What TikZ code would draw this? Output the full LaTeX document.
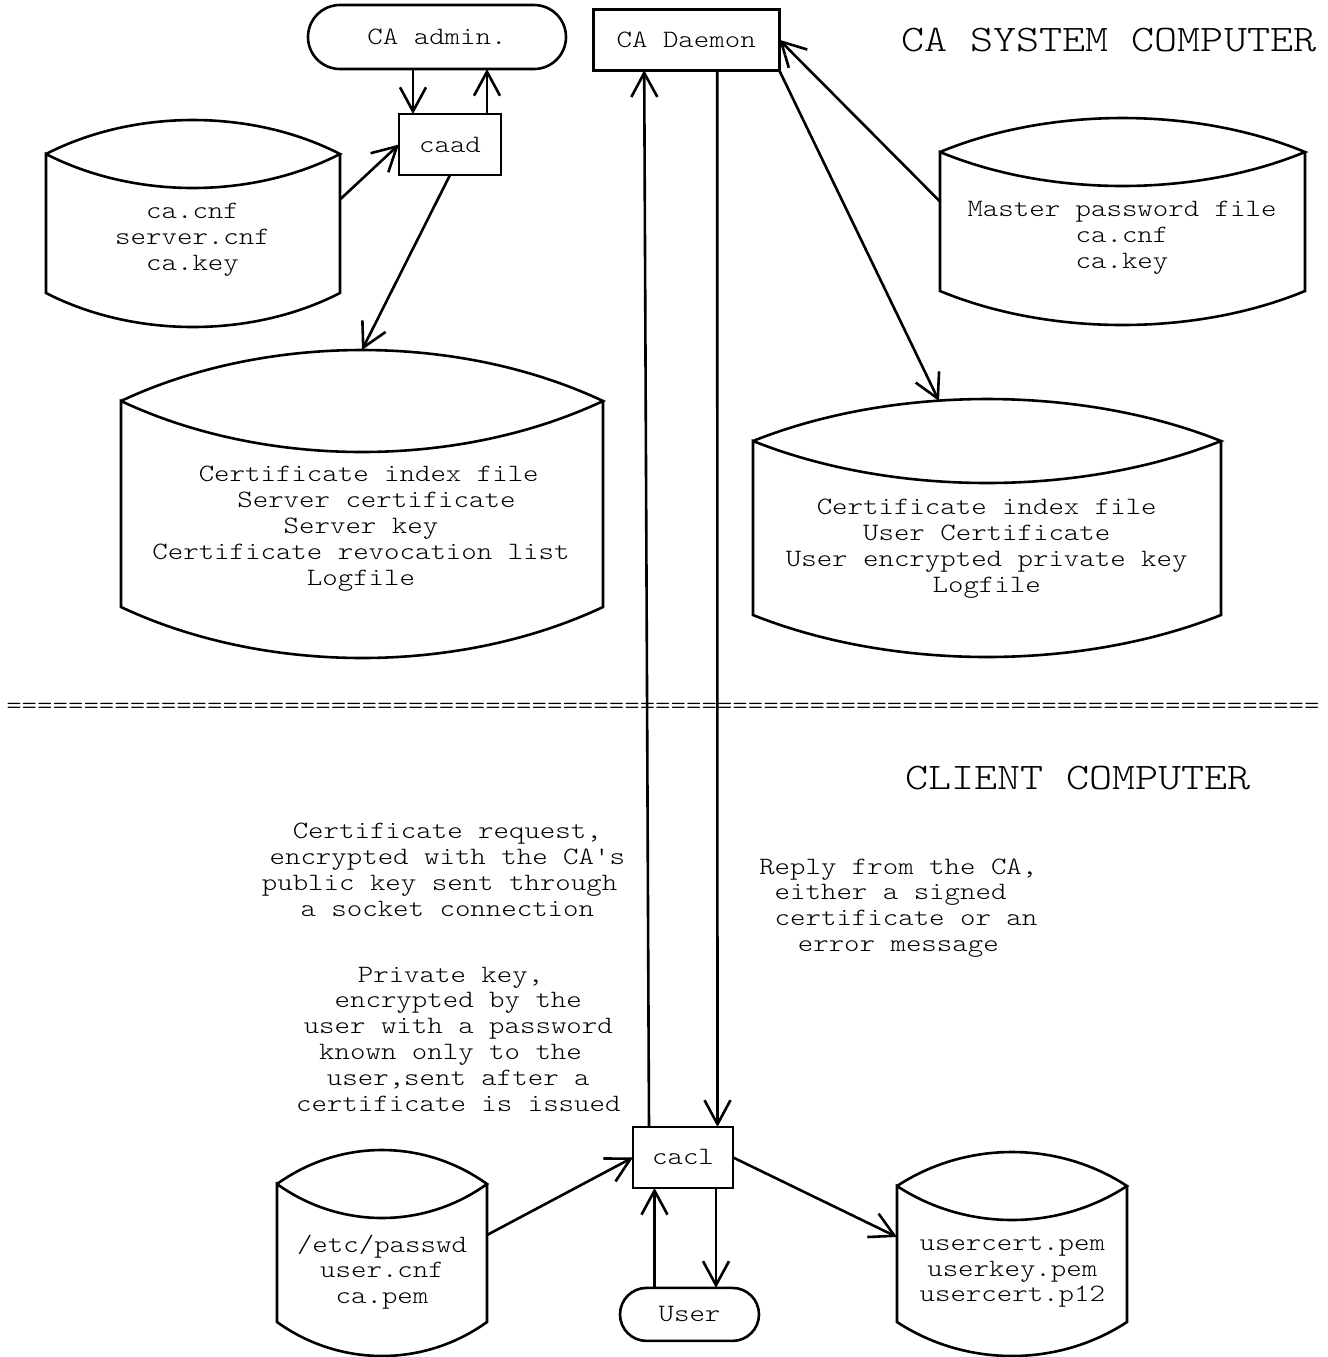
\documentclass[tikz,border=0pt]{standalone}
\usepackage{fontspec}
\newfontfamily\monofam{lmmonolt10-regular}[Extension=.otf, FakeStretch=1.18, Ligatures=TeXOff]
\newfontfamily\monobig{lmmonolt10-regular}[Extension=.otf, FakeStretch=1.17, Ligatures=TeXOff]
\usetikzlibrary{arrows.meta,calc}
\newcommand\smono{\monofam\fontsize{12.47pt}{12.9pt}\selectfont}
\newcommand\bmono{\monobig\fontsize{18.76pt}{20pt}\selectfont}
\newcommand\lsp{\hphantom{x}}
% #1 node name, #2 width (px), #3 bulge (px)
\newcommand\cylout[3]{%
  \draw[shapeline] ($(#1.north west)+(0,#3)$)
    .. controls +(0.3*#2,-1.333*#3) and +(-0.3*#2,-1.333*#3) .. ($(#1.north east)+(0,#3)$)
    .. controls +(-0.3*#2,1.333*#3) and +(0.3*#2,1.333*#3) .. ($(#1.north west)+(0,#3)$)
    -- ($(#1.south west)+(0,-#3)$)
    .. controls +(0.3*#2,1.333*#3) and +(-0.3*#2,1.333*#3) .. ($(#1.south east)+(0,-#3)$)
    -- ($(#1.north east)+(0,#3)$);}
\begin{document}
\begin{tikzpicture}[x=0.5pt,y=-0.5pt,
  line width=1.3pt,
  shapeline/.style={line width=1.3pt},
  box/.style={draw, rectangle, inner sep=0pt, outer sep=0pt, font=\smono},
  stadium/.style={box, rounded corners=#1},
  cyl/.style={rectangle, inner sep=0pt, outer sep=0pt},
  txt/.style={align=center, inner sep=0pt, font=\smono},
  title/.style={inner sep=0pt, font=\bmono},
  arr/.style={-{Straight Barb[length=12pt,width=13pt]}},
]
\useasboundingbox (0,0) rectangle (1328,1357);

% separator
\node[inner sep=0pt, font=\smono, anchor=west] (sep) at (5,708)
  {=====================================================================================};

% titles
\node[title] (tsys) at (1108.8,40) {CA SYSTEM COMPUTER};
\node[title] (tcli) at (1078,778) {CLIENT COMPUTER};

% boxes
\node[stadium=16pt, minimum width=129pt, minimum height=32pt] (admin) at (437,37) {CA admin.};
\node[box, minimum width=51pt, minimum height=30.5pt] (caad) at (450,144.5) {caad};
\node[box, minimum width=93pt, minimum height=30.5pt] (daemon) at (686.2,39.7) {CA Daemon};
\node[box, minimum width=50pt, minimum height=30.5pt] (cacl) at (683,1157.4) {cacl};
\node[stadium=13.25pt, minimum width=69.5pt, minimum height=26.5pt] (user) at (689.5,1314.4) {User};

% cylinders
\node[cyl, minimum width=147pt, minimum height=103.5pt] (cyl1) at (193,223.5) {};
\node[cyl, minimum width=241pt, minimum height=154pt] (cyl2) at (362,504) {};
\node[cyl, minimum width=182.5pt, minimum height=103.5pt] (cyl3) at (1122.5,221.5) {};
\node[cyl, minimum width=234pt, minimum height=129pt] (cyl4) at (987,528) {};
\node[cyl, minimum width=105pt, minimum height=103pt] (cyl5) at (382,1253) {};
\node[cyl, minimum width=115pt, minimum height=102pt] (cyl6) at (1012,1254) {};
\cylout{cyl1}{294}{34}
\cylout{cyl2}{482}{51}
\cylout{cyl3}{365}{34}
\cylout{cyl4}{468}{42}
\cylout{cyl5}{210}{34}
\cylout{cyl6}{230}{34}

% texts
\node[txt] (t1) at (192.5,240) {ca.cnf\\server.cnf\\ca.key};
\node[txt] (t2) at (361,528.7) {\lsp Certificate index file\\\lsp\lsp Server certificate\\Server key\\Certificate revocation list\\Logfile};
\node[txt] (t3) at (1122,238) {Master password file\\ca.cnf\\ca.key};
\node[txt] (t4) at (986.7,548.7) {Certificate index file\\User Certificate\\User encrypted private key\\Logfile};
\node[txt] (t5) at (382,1272) {/etc/passwd\\user.cnf\\ca.pem};
\node[txt] (t6) at (1012.3,1272) {usercert.pem\\userkey.pem\\usercert.p12};
\node[txt] (la) at (447.3,870) {Certificate request,\\encrypted with the CA's\\public key sent through\lsp\\a socket connection};
\node[txt] (lb) at (458.3,1039) {Private key,\lsp\\encrypted by the\\user with a password\\known only to the\lsp\\user,sent after a\\certificate is issued};
\node[txt] (lc) at (898.3,908) {Reply from the CA,\\either a signed\lsp\\\lsp certificate or an\\error message};

% connectors
\coordinate (a1) at ([xshift=-12pt]admin.south);
\draw[arr] (a1) -- (a1 |- caad.north);
\coordinate (a2) at ([xshift=18.5pt]caad.north);
\draw[arr] (a2) -- (a2 |- admin.south);
\draw[arr] ($(cyl1.east)+(0,-24)$) -- (caad.west);
\draw[arr] (caad.south) -- (cyl2.north);
\draw[arr] ($(cyl3.west)+(0,-20)$) -- (daemon.east);
\draw[arr] (daemon.south east) -- ($(cyl4.north)+(-48,2)$);
\draw[arr] ($(cacl.north)+(-34,0)$) -- ($(daemon.south)+(-42,0)$);
\draw[arr] ($(daemon.south)+(31,0)$) -- ($(cacl.north)+(34.5,0)$);
\draw[arr] ($(cyl5.east)+(0,-18)$) -- (cacl.west);
\draw[arr] (cacl.east) -- ($(cyl6.west)+(0,-17)$);
\coordinate (u1) at ([xshift=-17.5pt]user.north);
\draw[arr] (u1) -- (u1 |- cacl.south);
\coordinate (c2) at ([xshift=16.5pt]cacl.south);
\draw[arr] (c2) -- (c2 |- user.north);
\end{tikzpicture}
\end{document}
